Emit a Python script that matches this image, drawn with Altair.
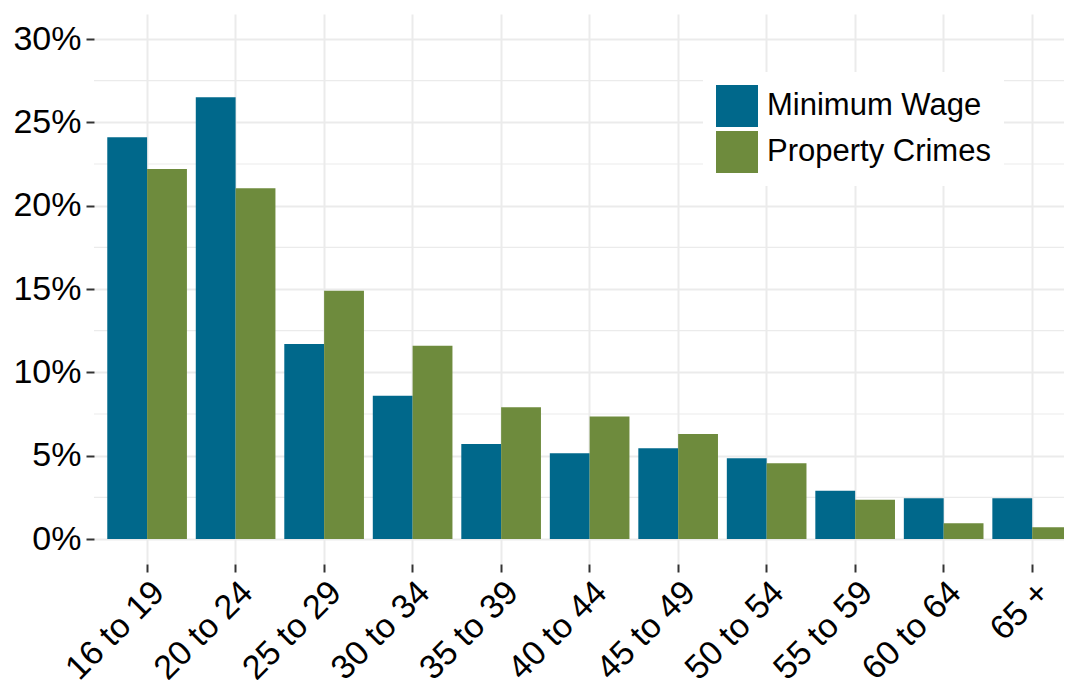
import altair as alt
import pandas as pd

ages = ["16 to 19", "20 to 24", "25 to 29", "30 to 34", "35 to 39", "40 to 44",
        "45 to 49", "50 to 54", "55 to 59", "60 to 64", "65 +"]
minimum_wage = [24.1, 26.5, 11.7, 8.6, 5.7, 5.15, 5.45, 4.85, 2.9, 2.45, 2.45]
property_crimes = [22.2, 21.05, 14.9, 11.6, 7.9, 7.35, 6.3, 4.55, 2.35, 0.95, 0.7]
series = ["Minimum Wage", "Property Crimes"]
colors = ["#00688B", "#6E8B3D"]
major_ticks = [0, 5, 10, 15, 20, 25, 30]
minor_ticks = [2.5, 7.5, 12.5, 17.5, 22.5, 27.5]

rows = []
for a, mw, pc in zip(ages, minimum_wage, property_crimes):
    rows.append({"age": a, "series": series[0], "value": mw})
    rows.append({"age": a, "series": series[1], "value": pc})
df = pd.DataFrame(rows)
minor_df = pd.DataFrame({"v": minor_ticks})

FONT = "Liberation Sans"
GRID = "#EBEBEB"
AXIS_FS = 34
LEG_FS = 31

yscale = alt.Scale(domain=[-1.5, 31.5], nice=False, zero=False)
xscale = alt.Scale(domain=ages, paddingInner=0.1, paddingOuter=0.075, align=1)

minor = alt.Chart(minor_df).mark_rule(color=GRID, strokeWidth=1.2).encode(
    y=alt.Y("v:Q", scale=yscale)
)

bars = alt.Chart(df).mark_bar().encode(
    x=alt.X("age:N", scale=xscale, sort=ages, title=None,
            axis=alt.Axis(labelAngle=-45, labelAlign="right", labelBaseline="top",
                          labelFontSize=AXIS_FS, labelFont=FONT, labelColor="black",
                          labelPadding=3, tickSize=8, tickWidth=2, tickColor="#333333",
                          domain=False, grid=True, gridColor=GRID, gridWidth=2)),
    xOffset=alt.XOffset("series:N", sort=series, scale=alt.Scale(paddingInner=0, paddingOuter=0)),
    y=alt.Y("value:Q", scale=yscale, title=None,
            axis=alt.Axis(values=major_ticks, labelExpr="datum.value + '%'",
                          labelFontSize=AXIS_FS, labelFont=FONT, labelColor="black",
                          labelPadding=5, tickSize=8, tickWidth=2, tickColor="#333333",
                          domain=False, grid=True, gridColor=GRID, gridWidth=2)),
    color=alt.Color("series:N", scale=alt.Scale(domain=series, range=colors), title=None,
                    legend=alt.Legend(orient="none", legendX=609, legendY=58,
                                      fillColor="white", padding=13,
                                      symbolType="square", symbolSize=1764,
                                      symbolStrokeWidth=0, symbolOpacity=1,
                                      rowPadding=4, labelOffset=9,
                                      labelFontSize=LEG_FS, labelFont=FONT, labelColor="black",
                                      labelLimit=400)),
)

chart = alt.layer(minor, bars).properties(
    width=978, height=550,
    padding={"left": 86, "top": 6, "right": -8, "bottom": 116},
    autosize=alt.AutoSizeParams(type="none"),
).configure_view(stroke=None).configure_axis(labelFont=FONT)

chart.save("out.html", embed_options={"renderer": "svg", "actions": False})
